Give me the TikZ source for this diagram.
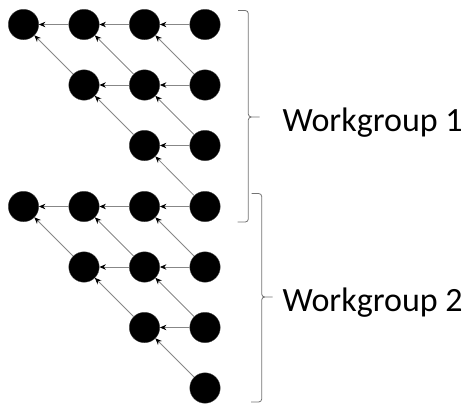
\documentclass[tikz,border=0pt]{standalone}
\usepackage{fontspec}
\setmainfont{Carlito}
\usetikzlibrary{arrows.meta}
\tikzset{
  dot/.style={circle, fill=black, draw=black!70, line width=0.3pt, inner sep=0pt, minimum size=30.5pt},
  link/.style={draw=black!47, line width=0.8pt, -{Stealth[length=6.5pt,width=5.5pt,black]}},
  bracket/.style={draw=black!55, line width=0.8pt},
  grouplabel/.style={inner sep=0pt, anchor=base west, font=\fontsize{34}{40}\selectfont}
}
\begin{document}
\begin{tikzpicture}[x=1pt, y=-1pt]
\useasboundingbox (0,0) rectangle (466,407);

% grid nodes: n<row><column>
\foreach \r/\y/\cols in {1/24.5/{1,2,3,4}, 2/85/{2,3,4}, 3/145.5/{3,4},
                         4/206.5/{1,2,3,4}, 5/267/{2,3,4}, 6/327.5/{3,4}, 7/388/{4}} {
  \foreach \c in \cols {
    \pgfmathsetmacro{\xx}{23.5+60.5*(\c-1)}
    \node[dot] (n\r\c) at (\xx,\y) {};
  }
}

% horizontal links (right to left)
\foreach \a/\b in {14/13, 13/12, 12/11, 24/23, 23/22, 34/33,
                   44/43, 43/42, 42/41, 54/53, 53/52, 64/63}
  \draw[link] (n\a) -- (n\b);

% diagonal links (lower right to upper left)
\foreach \a/\b in {22/11, 23/12, 24/13, 33/22, 34/23, 44/33,
                   52/41, 53/42, 54/43, 63/52, 64/53, 74/63}
  \draw[link] (n\a) -- (n\b);

% brace of the first workgroup
\draw[bracket] (238,10.5) -- (245.3,10.5) to[out=0,in=90] (248.3,13.5) -- (248.3,114)
  to[out=-90,in=180] (251.3,117) -- (259.5,117);
\draw[bracket] (251.3,117) to[out=180,in=90] (248.3,120) -- (248.3,219)
  to[out=-90,in=0] (245.3,222) -- (237.5,222);

% brace of the second workgroup
\draw[bracket] (251.5,193.5) -- (258.7,193.5) to[out=0,in=90] (261.7,196.5) -- (261.7,294)
  to[out=-90,in=180] (264.7,297) -- (272.5,297);
\draw[bracket] (264.7,297) to[out=180,in=90] (261.7,300) -- (261.7,399)
  to[out=-90,in=0] (258.7,402) -- (251,402);

\node[grouplabel] (w1) at (282.5,131) {Workgroup 1};
\node[grouplabel] (w2) at (282.5,311) {Workgroup 2};
\end{tikzpicture}
\end{document}
